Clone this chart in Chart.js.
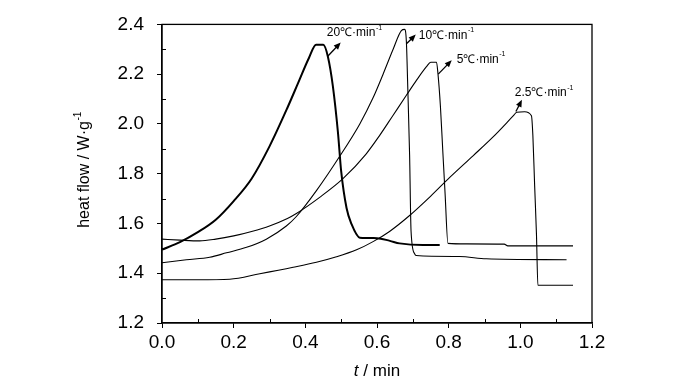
<!DOCTYPE html>
<html><head><meta charset="utf-8">
<script src="https://cdn.jsdelivr.net/npm/chart.js@4/dist/chart.umd.min.js"></script>
<style>html,body{margin:0;padding:0;background:#fff}</style>
</head><body>
<canvas id="c" width="700" height="382"></canvas>
<script>
// ---- data (t in min, heat flow in W/g) ----
const t20 = [0, 0.05, 0.1, 0.15, 0.2, 0.25, 0.3, 0.35, 0.38, 0.41, 0.43, 0.45, 0.463, 0.477, 0.491, 0.5, 0.515, 0.529, 0.552, 0.6, 0.636, 0.663, 0.728, 0.775];
const v20 = [1.495, 1.525, 1.565, 1.615, 1.69, 1.78, 1.91, 2.065, 2.165, 2.265, 2.318, 2.318, 2.27, 2.15, 1.966, 1.81, 1.662, 1.597, 1.543, 1.541, 1.53, 1.52, 1.513, 1.513];

const t10 = [0, 0.068, 0.133, 0.18, 0.236, 0.291, 0.347, 0.375, 0.43, 0.496, 0.552, 0.589, 0.617, 0.645, 0.668, 0.677, 0.682, 0.686, 0.691, 0.695, 0.705, 0.709, 0.83, 0.905, 1.129];
const v10 = [1.442, 1.454, 1.464, 1.482, 1.504, 1.537, 1.59, 1.628, 1.73, 1.87, 2.0, 2.105, 2.2, 2.3, 2.375, 2.38, 2.33, 2.14, 1.874, 1.57, 1.478, 1.471, 1.467, 1.458, 1.454];

const t5 = [0, 0.05, 0.105, 0.15, 0.2, 0.25, 0.3, 0.35, 0.375, 0.44, 0.505, 0.57, 0.608, 0.645, 0.682, 0.71, 0.738, 0.75, 0.766, 0.77, 0.777, 0.784, 0.79, 0.798, 0.85, 0.955, 0.965, 1.147];
const v5 = [1.537, 1.533, 1.53, 1.537, 1.55, 1.568, 1.59, 1.62, 1.64, 1.705, 1.78, 1.88, 1.955, 2.035, 2.115, 2.175, 2.23, 2.248, 2.248, 2.204, 2.07, 1.88, 1.72, 1.52, 1.518, 1.517, 1.51, 1.51];

const t25 = [0, 0.1, 0.189, 0.273, 0.366, 0.431, 0.487, 0.543, 0.589, 0.635, 0.691, 0.75, 0.803, 0.868, 0.924, 0.98, 0.99, 1.012, 1.031, 1.035, 1.04, 1.045, 1.049, 1.147];
const v25 = [1.374, 1.374, 1.376, 1.398, 1.424, 1.444, 1.466, 1.494, 1.527, 1.568, 1.632, 1.71, 1.785, 1.872, 1.948, 2.032, 2.047, 2.049, 2.033, 1.953, 1.75, 1.557, 1.352, 1.352];

const xTicks = [0.0, 0.2, 0.4, 0.6, 0.8, 1.0, 1.2];
const yTicks = [1.2, 1.4, 1.6, 1.8, 2.0, 2.2, 2.4];
const xMinor = [0.1, 0.3, 0.5, 0.7, 0.9, 1.1];
const yMinor = [1.3, 1.5, 1.7, 1.9, 2.1, 2.3];
const seriesLabels = ['20℃·min', '10℃·min', '5℃·min', '2.5℃·min'];

// annotation placement (data coordinates)
const notes = [
  {i: 0, from: [0.4625, 2.272], to: [0.4987, 2.327], text: [0.4597, 2.367]},
  {i: 1, from: [0.6829, 2.323], to: [0.7081, 2.359], text: [0.7164, 2.355]},
  {i: 2, from: [0.7709, 2.200], to: [0.8085, 2.256], text: [0.8225, 2.260]},
  {i: 3, from: [0.9877, 2.050], to: [1.0044, 2.097], text: [0.9844, 2.125]}
];

const pts = (t, v) => t.map((x, k) => ({x, y: v[k]}));
const tickFont = {family: '"Liberation Sans Narrow", "Liberation Sans", Arial, sans-serif', size: 19};

function supText(ctx, x, y, main, sup, size, family) {
  ctx.font = size + 'px ' + family;
  ctx.fillText(main, x, y);
  const w = ctx.measureText(main).width;
  ctx.font = Math.round(size * 0.62) + 'px ' + family;
  ctx.fillText(sup, x + w + 0.5, y - size * 0.42);
  return w;
}

const decor = {
  id: 'decor',
  afterDraw(chart) {
    const ctx = chart.ctx, a = chart.chartArea;
    const xs = chart.scales.x, ys = chart.scales.y;
    ctx.save();
    ctx.strokeStyle = '#000';
    ctx.lineWidth = 1.3;
    ctx.strokeRect(a.left, a.top, a.right - a.left, a.bottom - a.top);
    // minor inward ticks
    ctx.lineWidth = 1;
    ctx.beginPath();
    xMinor.forEach(v => { const px = Math.round(xs.getPixelForValue(v)) + 0.5; ctx.moveTo(px, a.bottom); ctx.lineTo(px, a.bottom - 4); });
    yMinor.forEach(v => { const py = Math.round(ys.getPixelForValue(v)) + 0.5; ctx.moveTo(a.left, py); ctx.lineTo(a.left + 4, py); });
    ctx.stroke();
    // annotations
    ctx.fillStyle = '#000';
    ctx.textBaseline = 'middle';
    ctx.textAlign = 'left';
    const fam = '"Liberation Sans", Arial, sans-serif';
    notes.forEach(n => {
      const x1 = xs.getPixelForValue(n.from[0]), y1 = ys.getPixelForValue(n.from[1]);
      const x2 = xs.getPixelForValue(n.to[0]), y2 = ys.getPixelForValue(n.to[1]);
      const ang = Math.atan2(y2 - y1, x2 - x1);
      ctx.lineWidth = 1.3;
      ctx.beginPath(); ctx.moveTo(x1, y1); ctx.lineTo(x2 - 4 * Math.cos(ang), y2 - 4 * Math.sin(ang)); ctx.stroke();
      ctx.beginPath();
      ctx.moveTo(x2, y2);
      ctx.lineTo(x2 - 7 * Math.cos(ang) + 3 * Math.sin(ang), y2 - 7 * Math.sin(ang) - 3 * Math.cos(ang));
      ctx.lineTo(x2 - 7 * Math.cos(ang) - 3 * Math.sin(ang), y2 - 7 * Math.sin(ang) + 3 * Math.cos(ang));
      ctx.closePath(); ctx.fill();
      supText(ctx, xs.getPixelForValue(n.text[0]), ys.getPixelForValue(n.text[1]), seriesLabels[n.i], '-1', 12, fam);
    });
    // y axis title (rotated)
    ctx.save();
    ctx.translate(85, 170);
    ctx.rotate(-Math.PI / 2);
    ctx.textAlign = 'left';
    ctx.font = '16px ' + fam;
    const mainY = 'heat flow / W·g';
    const wY = ctx.measureText(mainY).width;
    ctx.font = '10px ' + fam;
    const wS = ctx.measureText('-1').width;
    supText(ctx, -(wY + wS) / 2, 0, mainY, '-1', 16, fam);
    ctx.restore();
    // x axis title with italic t
    ctx.font = 'italic 17px ' + fam;
    const wt = ctx.measureText('t').width;
    ctx.font = '17px ' + fam;
    const wr = ctx.measureText(' / min').width;
    const cx = (a.left + a.right) / 2 - (wt + wr) / 2;
    ctx.font = 'italic 17px ' + fam;
    ctx.fillText('t', cx, 371);
    ctx.font = '17px ' + fam;
    ctx.fillText(' / min', cx + wt, 371);
    ctx.restore();
  }
};

const lineDs = (label, t, v, w) => ({
  label, data: pts(t, v), showLine: true, borderColor: '#000', borderWidth: w,
  pointRadius: 0, fill: false, tension: 0, cubicInterpolationMode: 'monotone'
});

new Chart(document.getElementById('c'), {
  type: 'scatter',
  data: {datasets: [
    lineDs(seriesLabels[0], t20, v20, 2),
    lineDs(seriesLabels[1], t10, v10, 1.1),
    lineDs(seriesLabels[2], t5, v5, 1.1),
    lineDs(seriesLabels[3], t25, v25, 1.1)
  ]},
  options: {
    responsive: false, animation: false, devicePixelRatio: 1,
    layout: {padding: {top: 21, right: 108, left: 0, bottom: 0}},
    plugins: {legend: {display: false}, tooltip: {enabled: false}},
    scales: {
      x: {
        type: 'linear', min: 0, max: 1.2,
        afterBuildTicks: s => { s.ticks = xTicks.map(v => ({value: v})); },
        afterFit: s => { s.height = 59; },
        ticks: {callback: v => v.toFixed(1), font: tickFont, color: '#000', padding: 3, maxRotation: 0},
        grid: {drawOnChartArea: false, tickLength: 5, color: '#000', lineWidth: 1},
        border: {display: true, color: '#000', width: 1.3}
      },
      y: {
        type: 'linear', min: 1.2, max: 2.4,
        afterBuildTicks: s => { s.ticks = yTicks.map(v => ({value: v})); },
        afterFit: s => { s.width = 162; },
        ticks: {callback: v => v.toFixed(1), font: tickFont, color: '#000', padding: 13},
        grid: {drawOnChartArea: false, tickLength: 5, color: '#000', lineWidth: 1},
        border: {display: true, color: '#000', width: 1.3}
      }
    }
  },
  plugins: [decor]
});
</script>
</body></html>
